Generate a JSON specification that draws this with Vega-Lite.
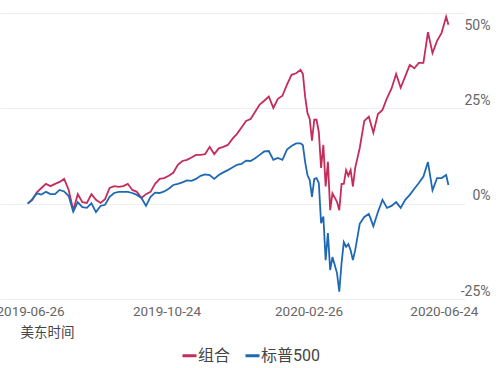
{
 "$schema": "https://vega.github.io/schema/vega-lite/v6.json",
 "width": 465, "height": 286,
 "autosize": {"type": "none"},
 "padding": {"left": 0, "top": 13, "right": 34, "bottom": 69},
 "background": "white",
 "config": {"view": {"stroke": null}, "font": "Roboto, Noto Sans CJK SC, sans-serif"},
 "data": {"values": [
{"date":"2019-06-24","series":"组合","value":0},{"date":"2019-06-24","series":"标普500","value":0},
{"date":"2019-06-28","series":"组合","value":1.0},{"date":"2019-06-28","series":"标普500","value":1.2},
{"date":"2019-07-02","series":"组合","value":3.0},{"date":"2019-07-02","series":"标普500","value":2.7},
{"date":"2019-07-06","series":"组合","value":4.1},{"date":"2019-07-06","series":"标普500","value":2.4},
{"date":"2019-07-10","series":"组合","value":5.2},{"date":"2019-07-10","series":"标普500","value":3.1},
{"date":"2019-07-14","series":"组合","value":4.6},{"date":"2019-07-14","series":"标普500","value":2.5},
{"date":"2019-07-18","series":"组合","value":5.2},{"date":"2019-07-18","series":"标普500","value":2.5},
{"date":"2019-07-22","series":"组合","value":5.7},{"date":"2019-07-22","series":"标普500","value":3.6},
{"date":"2019-07-26","series":"组合","value":6.5},{"date":"2019-07-26","series":"标普500","value":3.2},
{"date":"2019-07-30","series":"组合","value":3.6},{"date":"2019-07-30","series":"标普500","value":2.0},
{"date":"2019-08-03","series":"组合","value":-1.7},{"date":"2019-08-03","series":"标普500","value":-2.1},
{"date":"2019-08-07","series":"组合","value":2.5},{"date":"2019-08-07","series":"标普500","value":0.4},
{"date":"2019-08-11","series":"组合","value":0.4},{"date":"2019-08-11","series":"标普500","value":-0.9},
{"date":"2019-08-15","series":"组合","value":0.2},{"date":"2019-08-15","series":"标普500","value":-1.1},
{"date":"2019-08-19","series":"组合","value":2.5},{"date":"2019-08-19","series":"标普500","value":0.1},
{"date":"2019-08-23","series":"组合","value":1.0},{"date":"2019-08-23","series":"标普500","value":-2.2},
{"date":"2019-08-27","series":"组合","value":0.2},{"date":"2019-08-27","series":"标普500","value":-0.6},
{"date":"2019-08-31","series":"组合","value":1.2},{"date":"2019-08-31","series":"标普500","value":-0.3},
{"date":"2019-09-04","series":"组合","value":4.1},{"date":"2019-09-04","series":"标普500","value":1.8},
{"date":"2019-09-08","series":"组合","value":4.6},{"date":"2019-09-08","series":"标普500","value":2.8},
{"date":"2019-09-12","series":"组合","value":4.4},{"date":"2019-09-12","series":"标普500","value":3.1},
{"date":"2019-09-16","series":"组合","value":4.6},{"date":"2019-09-16","series":"标普500","value":3.1},
{"date":"2019-09-20","series":"组合","value":5.2},{"date":"2019-09-20","series":"标普500","value":3.1},
{"date":"2019-09-24","series":"组合","value":3.6},{"date":"2019-09-24","series":"标普500","value":2.8},
{"date":"2019-09-28","series":"组合","value":3.1},{"date":"2019-09-28","series":"标普500","value":2.3},
{"date":"2019-10-02","series":"组合","value":1.5},{"date":"2019-10-02","series":"标普500","value":1.5},
{"date":"2019-10-06","series":"组合","value":2.5},{"date":"2019-10-06","series":"标普500","value":-0.6},
{"date":"2019-10-10","series":"组合","value":3.1},{"date":"2019-10-10","series":"标普500","value":1.8},
{"date":"2019-10-14","series":"组合","value":5.2},{"date":"2019-10-14","series":"标普500","value":2.9},
{"date":"2019-10-18","series":"组合","value":6.5},{"date":"2019-10-18","series":"标普500","value":2.8},
{"date":"2019-10-22","series":"组合","value":6.7},{"date":"2019-10-22","series":"标普500","value":3.2},
{"date":"2019-10-26","series":"组合","value":7.3},{"date":"2019-10-26","series":"标普500","value":3.9},
{"date":"2019-10-30","series":"组合","value":8.1},{"date":"2019-10-30","series":"标普500","value":4.9},
{"date":"2019-11-03","series":"组合","value":10.2},{"date":"2019-11-03","series":"标普500","value":5.2},
{"date":"2019-11-07","series":"组合","value":11.2},{"date":"2019-11-07","series":"标普500","value":5.6},
{"date":"2019-11-11","series":"组合","value":11.5},{"date":"2019-11-11","series":"标普500","value":6.1},
{"date":"2019-11-15","series":"组合","value":12.1},{"date":"2019-11-15","series":"标普500","value":6.0},
{"date":"2019-11-19","series":"组合","value":12.8},{"date":"2019-11-19","series":"标普500","value":6.5},
{"date":"2019-11-23","series":"组合","value":12.8},{"date":"2019-11-23","series":"标普500","value":7.3},
{"date":"2019-11-27","series":"组合","value":13.0},{"date":"2019-11-27","series":"标普500","value":7.7},
{"date":"2019-12-01","series":"组合","value":14.9},{"date":"2019-12-01","series":"标普500","value":7.5},
{"date":"2019-12-05","series":"组合","value":13.0},{"date":"2019-12-05","series":"标普500","value":6.5},
{"date":"2019-12-09","series":"组合","value":14.5},{"date":"2019-12-09","series":"标普500","value":7.5},
{"date":"2019-12-13","series":"组合","value":14.9},{"date":"2019-12-13","series":"标普500","value":8.2},
{"date":"2019-12-17","series":"组合","value":15.4},{"date":"2019-12-17","series":"标普500","value":8.8},
{"date":"2019-12-21","series":"组合","value":17.0},{"date":"2019-12-21","series":"标普500","value":9.5},
{"date":"2019-12-25","series":"组合","value":18.3},{"date":"2019-12-25","series":"标普500","value":10.2},
{"date":"2019-12-29","series":"组合","value":20.0},{"date":"2019-12-29","series":"标普500","value":10.4},
{"date":"2020-01-02","series":"组合","value":21.7},{"date":"2020-01-02","series":"标普500","value":11.3},
{"date":"2020-01-06","series":"组合","value":22.2},{"date":"2020-01-06","series":"标普500","value":11.2},
{"date":"2020-01-10","series":"组合","value":24.1},{"date":"2020-01-10","series":"标普500","value":11.9},
{"date":"2020-01-14","series":"组合","value":26.0},{"date":"2020-01-14","series":"标普500","value":12.8},
{"date":"2020-01-18","series":"组合","value":27.0},{"date":"2020-01-18","series":"标普500","value":13.7},
{"date":"2020-01-22","series":"组合","value":28.1},{"date":"2020-01-22","series":"标普500","value":13.8},
{"date":"2020-01-26","series":"组合","value":25.1},{"date":"2020-01-26","series":"标普500","value":11.5},
{"date":"2020-01-30","series":"组合","value":27.5},{"date":"2020-01-30","series":"标普500","value":12.0},
{"date":"2020-02-03","series":"组合","value":28.3},{"date":"2020-02-03","series":"标普500","value":11.5},
{"date":"2020-02-07","series":"组合","value":31.2},{"date":"2020-02-07","series":"标普500","value":14.2},
{"date":"2020-02-11","series":"组合","value":33.8},{"date":"2020-02-11","series":"标普500","value":15.1},
{"date":"2020-02-15","series":"组合","value":34.2},{"date":"2020-02-15","series":"标普500","value":15.8},
{"date":"2020-02-19","series":"组合","value":35.1},{"date":"2020-02-19","series":"标普500","value":15.8},
{"date":"2020-02-21","series":"组合","value":34.0},{"date":"2020-02-21","series":"标普500","value":15.3},
{"date":"2020-02-23","series":"组合","value":28.0},{"date":"2020-02-23","series":"标普500","value":10.9},
{"date":"2020-02-25","series":"组合","value":23.8},{"date":"2020-02-25","series":"标普500","value":7.5},
{"date":"2020-02-27","series":"组合","value":22.2},{"date":"2020-02-27","series":"标普500","value":6.2},
{"date":"2020-02-29","series":"组合","value":16.5},{"date":"2020-02-29","series":"标普500","value":1.8},
{"date":"2020-03-02","series":"组合","value":22.0},{"date":"2020-03-02","series":"标普500","value":6.5},
{"date":"2020-03-04","series":"组合","value":22.0},{"date":"2020-03-04","series":"标普500","value":6.7},
{"date":"2020-03-06","series":"组合","value":18.8},{"date":"2020-03-06","series":"标普500","value":5.4},
{"date":"2020-03-08","series":"组合","value":9.4},{"date":"2020-03-08","series":"标普500","value":-5.1},
{"date":"2020-03-10","series":"组合","value":15.4},{"date":"2020-03-10","series":"标普500","value":-3.4},
{"date":"2020-03-12","series":"组合","value":4.5},{"date":"2020-03-12","series":"标普500","value":-14.8},
{"date":"2020-03-14","series":"组合","value":11.0},{"date":"2020-03-14","series":"标普500","value":-7.7},
{"date":"2020-03-16","series":"组合","value":-1.7},{"date":"2020-03-16","series":"标普500","value":-17.4},
{"date":"2020-03-18","series":"组合","value":2.7},{"date":"2020-03-18","series":"标普500","value":-14.0},
{"date":"2020-03-20","series":"组合","value":1.6},{"date":"2020-03-20","series":"标普500","value":-16.1},
{"date":"2020-03-22","series":"组合","value":0.5},{"date":"2020-03-22","series":"标普500","value":-18.2},
{"date":"2020-03-24","series":"组合","value":-1.7},{"date":"2020-03-24","series":"标普500","value":-23.1},
{"date":"2020-03-26","series":"组合","value":5.2},{"date":"2020-03-26","series":"标普500","value":-15.6},
{"date":"2020-03-28","series":"组合","value":5.2},{"date":"2020-03-28","series":"标普500","value":-10.1},
{"date":"2020-03-30","series":"组合","value":8.8},{"date":"2020-03-30","series":"标普500","value":-11.3},
{"date":"2020-04-01","series":"组合","value":7.3},{"date":"2020-04-01","series":"标普500","value":-10.6},
{"date":"2020-04-03","series":"组合","value":8.8},{"date":"2020-04-03","series":"标普500","value":-12.2},
{"date":"2020-04-05","series":"组合","value":4.5},{"date":"2020-04-05","series":"标普500","value":-14.8},
{"date":"2020-04-07","series":"组合","value":9.4},{"date":"2020-04-07","series":"标普500","value":-12.2},
{"date":"2020-04-11","series":"组合","value":14.6},{"date":"2020-04-11","series":"标普500","value":-5.3},
{"date":"2020-04-15","series":"组合","value":21.7},{"date":"2020-04-15","series":"标普500","value":-3.5},
{"date":"2020-04-19","series":"组合","value":22.8},{"date":"2020-04-19","series":"标普500","value":-2.7},
{"date":"2020-04-23","series":"组合","value":18.6},{"date":"2020-04-23","series":"标普500","value":-5.9},
{"date":"2020-04-27","series":"组合","value":23.5},{"date":"2020-04-27","series":"标普500","value":-2.2},
{"date":"2020-05-01","series":"组合","value":24.6},{"date":"2020-05-01","series":"标普500","value":1.0},
{"date":"2020-05-05","series":"组合","value":27.7},{"date":"2020-05-05","series":"标普500","value":-1.1},
{"date":"2020-05-09","series":"组合","value":30.2},{"date":"2020-05-09","series":"标普500","value":-0.6},
{"date":"2020-05-13","series":"组合","value":34.0},{"date":"2020-05-13","series":"标普500","value":0.4},
{"date":"2020-05-17","series":"组合","value":30.4},{"date":"2020-05-17","series":"标普500","value":-1.1},
{"date":"2020-05-21","series":"组合","value":33.4},{"date":"2020-05-21","series":"标普500","value":1.0},
{"date":"2020-05-25","series":"组合","value":36.4},{"date":"2020-05-25","series":"标普500","value":2.3},
{"date":"2020-05-29","series":"组合","value":35.5},{"date":"2020-05-29","series":"标普500","value":3.9},
{"date":"2020-06-02","series":"组合","value":36.9},{"date":"2020-06-02","series":"标普500","value":5.4},
{"date":"2020-06-06","series":"组合","value":36.9},{"date":"2020-06-06","series":"标普500","value":7.1},
{"date":"2020-06-10","series":"组合","value":45.0},{"date":"2020-06-10","series":"标普500","value":10.9},
{"date":"2020-06-14","series":"组合","value":39.5},{"date":"2020-06-14","series":"标普500","value":3.5},
{"date":"2020-06-18","series":"组合","value":42.7},{"date":"2020-06-18","series":"标普500","value":6.7},
{"date":"2020-06-22","series":"组合","value":44.8},{"date":"2020-06-22","series":"标普500","value":6.7},
{"date":"2020-06-26","series":"组合","value":49.0},{"date":"2020-06-26","series":"标普500","value":7.5},
{"date":"2020-06-28","series":"组合","value":46.9},{"date":"2020-06-28","series":"标普500","value":4.9}
 ]},
 "mark": {"type": "line", "strokeWidth": 1.8},
 "encoding": {
  "x": {"field": "date", "type": "temporal",
   "scale": {"type": "utc", "domain": [{"year":2019,"month":5,"date":30,"hours":14,"utc":true},{"year":2020,"month":7,"date":12,"hours":14,"utc":true}]},
   "axis": {"values": [{"year":2019,"month":6,"date":26,"utc":true},{"year":2019,"month":10,"date":24,"utc":true},{"year":2020,"month":2,"date":26,"utc":true},{"year":2020,"month":6,"date":24,"utc":true}],
    "labelExpr": "utcFormat(datum.value, '%Y-%m-%d')", "domain": false, "ticks": false, "grid": false,
    "labelFontSize": 13.5, "labelColor": "#666666", "labelPadding": 5, "labelFlush": false, "labelOverlap": false,
    "title": "美东时间", "titleX": 20, "titleY": 33, "titleAlign": "left", "titleAnchor": "start", "titleBaseline": "middle",
    "titleFontSize": 13.5, "titleFontWeight": "normal", "titleColor": "#444444"}},
  "y": {"field": "value", "type": "quantitative",
   "scale": {"domain": [-25, 50], "nice": false, "zero": false},
   "axis": {"orient": "right", "values": [-25, 0, 25, 50], "labelExpr": "datum.value + '%'",
    "domain": false, "ticks": false, "grid": true, "gridColor": "#eeeeee", "gridWidth": 1,
    "labelAlign": "right", "labelPadding": 25, "labelFlush": false,
    "labelBaseline": {"condition": {"test": "datum.value == 50", "value": "top"}, "value": "bottom"},
    "labelOffset": {"condition": {"test": "datum.value == 50", "value": 5}, "value": -1},
    "labelFontSize": 14, "labelColor": "#666666", "title": null}},
  "color": {"field": "series", "type": "nominal",
   "scale": {"domain": ["组合", "标普500"], "range": ["#c42d5b", "#1f69b4"]},
   "legend": {"orient": "none", "legendX": 181, "legendY": 334, "direction": "horizontal", "title": null,
    "symbolType": "stroke", "symbolSize": 196, "symbolStrokeWidth": 3, "labelFontSize": 16, "labelColor": "#444444",
    "labelOffset": 0, "columnPadding": 8}}
 }
}
